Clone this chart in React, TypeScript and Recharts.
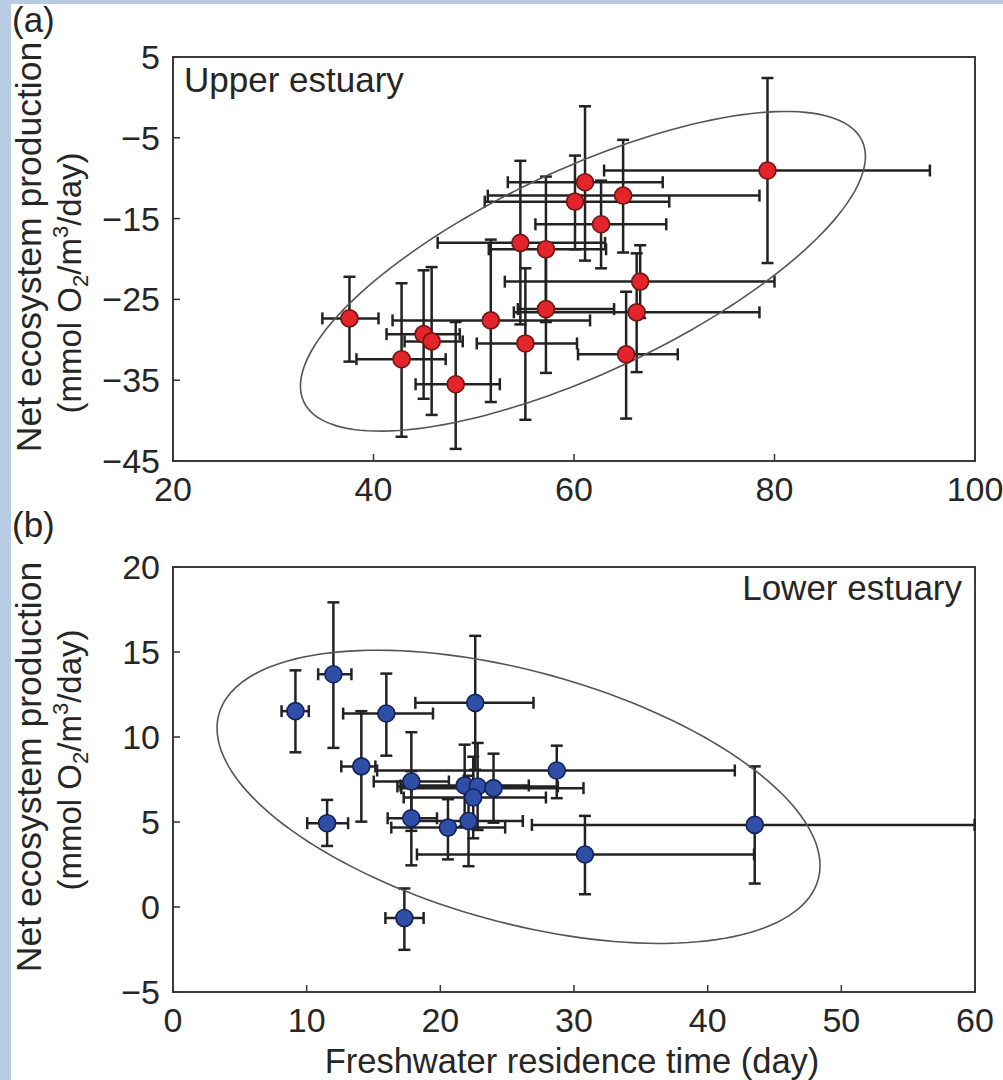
import React from 'react';
import { ScatterChart, Scatter, XAxis, YAxis, ErrorBar, ReferenceArea } from 'recharts';

const FONT = '"Liberation Sans", Arial, Helvetica, sans-serif';
const TXT = '#262626';

// ---------- (a) Upper estuary ----------
const upperTime = [37.6, 42.8, 45.0, 45.8, 48.2, 51.7, 54.65, 57.2, 57.2, 55.15, 66.6, 66.25, 65.2, 61.1, 60.1, 64.9, 62.7, 79.3];
const upperNEP = [-27.35, -32.4, -29.3, -30.2, -35.5, -27.6, -18.0, -18.8, -26.2, -30.45, -22.8, -26.6, -31.8, -10.5, -12.9, -12.15, -15.7, -9.05];
// [lower, upper] error amounts
const upperTimeErr: [number, number][] = [
  [2.7, 2.9], [4.5, 4.4], [3.7, 3.6], [2.7, 3.1], [4.0, 4.4], [9.8, 9.9], [8.25, 8.45], [5.7, 6.0], [2.8, 6.8],
  [4.85, 5.15], [13.5, 13.4], [12.25, 12.25], [4.8, 5.15], [7.7, 7.75], [9.0, 9.4], [13.5, 13.6], [6.55, 6.5], [16.3, 16.2],
];
const upperNEPErr: [number, number][] = [
  [5.35, 5.15], [9.6, 9.4], [8.0, 7.9], [9.1, 9.2], [8.0, 7.7], [10.1, 10.0], [10.1, 10.15], [9.0, 9.0], [7.9, 8.0],
  [9.45, 9.3], [4.5, 4.5], [7.4, 7.3], [7.95, 7.75], [9.7, 9.4], [5.9, 5.7], [7.05, 6.9], [5.45, 5.4], [11.45, 11.45],
];
const upperXTicks = [20, 40, 60, 80, 100];
const upperYTicks = [5, -5, -15, -25, -35, -45];
// confidence ellipse: centre and semi-axis vectors (data units)
const upperEllipseCenter = [60.89, -21.52];
const upperEllipseAxisA = [27.85, 16.14];
const upperEllipseAxisB = [4.29, -11.44];

// ---------- (b) Lower estuary ----------
const lowerTime = [9.16, 12.0, 15.96, 14.09, 17.83, 17.83, 21.82, 22.79, 23.98, 22.46, 20.57, 22.11, 22.61, 28.71, 30.82, 11.53, 17.31, 43.52];
const lowerNEP = [11.52, 13.69, 11.38, 8.27, 7.38, 5.22, 7.15, 7.09, 6.99, 6.44, 4.67, 5.06, 12.01, 8.03, 3.09, 4.93, -0.65, 4.83];
const lowerTimeErr: [number, number][] = [
  [1.04, 1.0], [1.14, 1.35], [3.23, 3.49], [1.5, 1.05], [2.81, 2.81], [1.77, 1.92], [4.8, 4.8], [6.0, 6.0], [6.9, 6.73],
  [5.2, 5.44], [4.24, 4.28], [4.06, 4.06], [4.48, 4.36], [13.44, 13.32], [12.57, 12.65], [1.49, 1.57], [1.42, 1.44], [16.67, 16.45],
];
const lowerNEPErr: [number, number][] = [
  [2.42, 2.4], [4.33, 4.23], [2.48, 2.35], [3.25, 3.25], [2.9, 2.9], [2.77, 2.77], [2.4, 2.4], [2.56, 2.56], [2.03, 2.03],
  [2.4, 2.4], [1.87, 1.67], [2.66, 2.66], [3.94, 3.94], [1.63, 1.46], [2.34, 2.27], [1.34, 1.37], [1.87, 1.74], [3.45, 3.44],
];
const lowerXTicks = [0, 10, 20, 30, 40, 50, 60];
const lowerYTicks = [20, 15, 10, 5, 0, -5];
const lowerEllipseCenter = [25.85, 6.48];
const lowerEllipseAxisA = [22.42, -4.85];
const lowerEllipseAxisB = [-2.47, -7.13];

const buildPoints = (xs: number[], ys: number[], ex: [number, number][], ey: [number, number][]) =>
  xs.map((x, i) => ({ x, y: ys[i], ex: ex[i], ey: ey[i] }));

const ellipse = (c: number[], a: number[], b: number[], n = 160) => {
  const pts: { x: number; y: number }[] = [];
  for (let i = 0; i <= n; i++) {
    const t = (2 * Math.PI * i) / n;
    pts.push({ x: c[0] + a[0] * Math.cos(t) + b[0] * Math.sin(t), y: c[1] + a[1] * Math.cos(t) + b[1] * Math.sin(t) });
  }
  return pts;
};

const fmt = (v: number) => (v < 0 ? '\u2212' + Math.abs(v) : String(v));

const YTick = (props: any) => {
  const { x, y, payload } = props;
  return (
    <g>
      <line x1={x} x2={x + 7} y1={y} y2={y} stroke="#333" strokeWidth={1.5} />
      <text x={x - 13} y={y} dy={12} textAnchor="end" fontSize={34} fontFamily={FONT} fill={TXT}>
        {fmt(payload.value)}
      </text>
    </g>
  );
};

const XTick = (props: any) => {
  const { x, y, payload } = props;
  return (
    <g>
      <line x1={x} x2={x} y1={y} y2={y - 7} stroke="#333" strokeWidth={1.5} />
      <text x={x} y={y + 40} textAnchor="middle" fontSize={34} fontFamily={FONT} fill={TXT}>
        {fmt(payload.value)}
      </text>
    </g>
  );
};

const Dot = (fill: string, stroke: string) => (props: any) => (
  <circle cx={props.cx} cy={props.cy} r={8.5} fill={fill} stroke={stroke} strokeWidth={1.6} />
);

const NoShape = () => <g />;

interface PanelProps {
  points: any[];
  ell: { x: number; y: number }[];
  xDomain: [number, number];
  yDomain: [number, number];
  xTicks: number[];
  yTicks: number[];
  fill: string;
  stroke: string;
  height: number;
  bottom: number;
}

const Panel = ({ points, ell, xDomain, yDomain, xTicks, yTicks, fill, stroke, height, bottom }: PanelProps) => (
  <ScatterChart width={1003} height={height} margin={{ top: 57, right: 28, left: 0, bottom }}>
    <XAxis
      type="number"
      dataKey="x"
      domain={xDomain}
      ticks={xTicks}
      allowDataOverflow
      interval={0}
      axisLine={false}
      tickLine={false}
      tickSize={0}
      tickMargin={0}
      height={50}
      tick={<XTick />}
    />
    <YAxis
      type="number"
      dataKey="y"
      domain={yDomain}
      ticks={yTicks}
      allowDataOverflow
      interval={0}
      axisLine={false}
      tickLine={false}
      tickSize={0}
      tickMargin={0}
      width={173}
      tick={<YTick />}
    />
    <ReferenceArea x1={xDomain[0]} x2={xDomain[1]} y1={yDomain[0]} y2={yDomain[1]} fill="none" stroke="#3c3c3c" strokeWidth={2} />
    <Scatter data={ell} line={{ stroke: '#555', strokeWidth: 1.6, fill: 'none' }} lineType="joint" shape={<NoShape />} isAnimationActive={false} />
    <Scatter data={points} shape={Dot(fill, stroke)} isAnimationActive={false}>
      <ErrorBar dataKey="ex" direction="x" width={6} stroke="#222" strokeWidth={2.5} />
      <ErrorBar dataKey="ey" direction="y" width={6} stroke="#222" strokeWidth={2.5} />
    </Scatter>
  </ScatterChart>
);

const SubLabel = ({ x, y }: { x: number; y: number }) => (
  <text transform={`translate(${x}, ${y}) rotate(-90)`} textAnchor="middle" fontSize={33} fontFamily={FONT} fill={TXT}>
    (mmol O<tspan dy={7} fontSize={22}>2</tspan>
    <tspan dy={-7}>/m</tspan>
    <tspan dy={-13} fontSize={22}>3</tspan>
    <tspan dy={13}>/day)</tspan>
  </text>
);

export default function App() {
  const upperPts = buildPoints(upperTime, upperNEP, upperTimeErr, upperNEPErr);
  const lowerPts = buildPoints(lowerTime, lowerNEP, lowerTimeErr, lowerNEPErr);
  const upperEll = ellipse(upperEllipseCenter, upperEllipseAxisA, upperEllipseAxisB);
  const lowerEll = ellipse(lowerEllipseCenter, lowerEllipseAxisA, lowerEllipseAxisB);
  return (
    <div style={{ position: 'relative', width: 1003, height: 1080, background: '#fff', overflow: 'hidden' }}>
      <style>{'body{margin:0}'}</style>
      <div style={{ position: 'absolute', left: 0, top: 0, width: 11, height: 1080, background: '#b8cce4' }} />
      <div style={{ position: 'absolute', left: 0, top: 0, width: 1003, height: 4, background: '#b8cce4' }} />
      <div style={{ position: 'absolute', left: 0, top: 0 }}>
        <Panel
          points={upperPts}
          ell={upperEll}
          xDomain={[20, 100]}
          yDomain={[-45, 5]}
          xTicks={upperXTicks}
          yTicks={upperYTicks}
          fill="#e3242b"
          stroke="#6e1616"
          height={520}
          bottom={9}
        />
      </div>
      <div style={{ position: 'absolute', left: 0, top: 510 }}>
        <Panel
          points={lowerPts}
          ell={lowerEll}
          xDomain={[0, 60]}
          yDomain={[-5, 20]}
          xTicks={lowerXTicks}
          yTicks={lowerYTicks}
          fill="#2f4fa6"
          stroke="#15215a"
          height={540}
          bottom={8}
        />
      </div>
      <svg width={1003} height={1080} style={{ position: 'absolute', left: 0, top: 0, pointerEvents: 'none' }}>
        <text x={12} y={32} fontSize={35} fontFamily={FONT} fill={TXT}>(a)</text>
        <text x={12} y={537} fontSize={35} fontFamily={FONT} fill={TXT}>(b)</text>
        <text x={184} y={92} fontSize={35} fontFamily={FONT} fill={TXT}>Upper estuary</text>
        <text x={962} y={600} textAnchor="end" fontSize={35} fontFamily={FONT} fill={TXT}>Lower estuary</text>
        <text transform="translate(41, 247) rotate(-90)" textAnchor="middle" fontSize={35.5} fontFamily={FONT} fill={TXT}>
          Net ecosystem production
        </text>
        <SubLabel x={81} y={283} />
        <text transform="translate(41, 767) rotate(-90)" textAnchor="middle" fontSize={35.5} fontFamily={FONT} fill={TXT}>
          Net ecosystem production
        </text>
        <SubLabel x={81} y={760} />
        <text x={572} y={1073} textAnchor="middle" fontSize={34.5} fontFamily={FONT} fill={TXT}>
          Freshwater residence time (day)
        </text>
      </svg>
    </div>
  );
}
